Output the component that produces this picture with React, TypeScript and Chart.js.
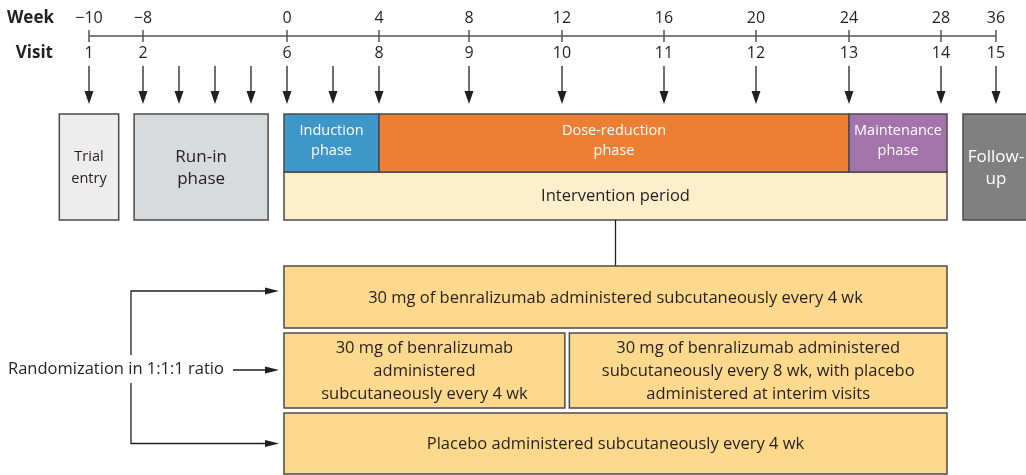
import { useEffect, useRef } from 'react';
import { Chart, registerables, LinearScale } from 'chart.js';

// ---------- DATA ----------
const weekTicks = [-10, -8, 0, 4, 8, 12, 16, 20, 24, 28, 36];
const visitLabels = ['1', '2', '6', '8', '9', '10', '11', '12', '13', '14', '15'];
const visitArrowWeeks = [-10, -8, -6, -4, -2, 0, 2, 4, 8, 12, 16, 20, 24, 28, 36];

const preBoxLabels = [['Trial', 'entry'], ['Run-in', 'phase'], ['Follow-', 'up']];
const preBoxStart = [-11.1, -8.33, 31.2];
const preBoxEnd = [-8.9, -1.05, 41];

const phaseLabels = [['Induction', 'phase'], ['Dose-reduction', 'phase'], ['Maintenance', 'phase']];
const phaseStart = [0, 4, 24];
const phaseEnd = [4, 24, 28];
const periodLabel = 'Intervention period';

const armLabels = [
  ['30 mg of benralizumab administered subcutaneously every 4 wk'],
  ['30 mg of benralizumab', 'administered', 'subcutaneously every 4 wk'],
  ['30 mg of benralizumab administered', 'subcutaneously every 8 wk, with placebo', 'administered at interim visits'],
  ['Placebo administered subcutaneously every 4 wk'],
];
const armStart = [0, 0, 12.2, 0];
const armEnd = [28, 12.2, 28, 28];
const armRow = [0, 1, 1, 2];
const randomizationLabel = 'Randomization in 1:1:1 ratio';

// ---------- SCALE (timeline with segments) ----------
const stopWeeks = [-10, -8, 0, 4, 8, 12, 16, 20, 24, 28, 36];
const stopPositions = [89, 143, 287, 379, 469, 562, 664, 756, 849, 941, 996].map((p) => p / 1026);

class SegmentedScale extends LinearScale {
  static id = 'segmented';
  static defaults = LinearScale.defaults;
  getPixelForValue(value: number) {
    const o: any = this.options;
    const ws: number[] = o.stopWeeks;
    const fs: number[] = o.stopPositions;
    let i = 0;
    while (i < ws.length - 2 && value > ws[i + 1]) i++;
    const f = fs[i] + ((value - ws[i]) / (ws[i + 1] - ws[i])) * (fs[i + 1] - fs[i]);
    return this.left + f * this.width;
  }
  getValueForPixel(pixel: number) {
    const o: any = this.options;
    const ws: number[] = o.stopWeeks;
    const fs: number[] = o.stopPositions;
    const f = (pixel - this.left) / this.width;
    let i = 0;
    while (i < fs.length - 2 && f > fs[i + 1]) i++;
    return ws[i] + ((f - fs[i]) / (fs[i + 1] - fs[i])) * (ws[i + 1] - ws[i]);
  }
}

Chart.register(...registerables, SegmentedScale);

// ---------- LAYOUT / STYLE ----------
const FONT = '"Open Sans", "Noto Sans", sans-serif';
const TEXT = '#231f20';
const BORDER = '#4a4a4a';
const L = {
  weekY: 18, axisY: 36, visitY: 53, tickUp: 6, tickDown: 6,
  arrowTop: 66, arrowTip: 104, headH: 13, headW: 4.5,
  boxTop: 114, phaseBottom: 172, boxBottom: 220,
  padL: 3, padR: 6, connectorBottom: 266,
  armTop: [266, 333, 413], armBottom: [328, 408, 474], armGap: 4.5,
  bracketX: 131, randY: 370, randX: 8, randArrowFrom: 233, armArrowTip: 279,
};
const preBoxColors = ['#ededed', '#d9dadc', '#808080'];
const preBoxText = [TEXT, TEXT, '#ffffff'];
const preBoxFont = [14.5, 17, 17];
const phaseColors = ['#3f97c9', '#ed7f35', '#a374aa'];
const periodColor = '#fdefcb';
const armColor = '#fdd98d';

function box(ctx: CanvasRenderingContext2D, x0: number, y0: number, x1: number, y1: number, fill: string) {
  ctx.fillStyle = fill;
  ctx.fillRect(x0, y0, x1 - x0, y1 - y0);
  ctx.strokeStyle = BORDER;
  ctx.lineWidth = 1.5;
  ctx.strokeRect(x0, y0, x1 - x0, y1 - y0);
}

function lines(ctx: CanvasRenderingContext2D, arr: string[], cx: number, cy: number, lh: number) {
  const n = arr.length;
  arr.forEach((t, i) => ctx.fillText(t, cx, cy + (i - (n - 1) / 2) * lh));
}

function arrowHead(ctx: CanvasRenderingContext2D, tx: number, ty: number, dir: 'down' | 'right', len: number, hw: number) {
  ctx.beginPath();
  if (dir === 'down') {
    ctx.moveTo(tx, ty);
    ctx.lineTo(tx - hw, ty - len);
    ctx.lineTo(tx + hw, ty - len);
  } else {
    ctx.moveTo(tx, ty);
    ctx.lineTo(tx - len, ty - hw);
    ctx.lineTo(tx - len, ty + hw);
  }
  ctx.closePath();
  ctx.fill();
}

const diagramPlugin = {
  id: 'diagram',
  afterDraw(chart: any) {
    const ctx: CanvasRenderingContext2D = chart.ctx;
    const xs = chart.scales.x;
    const ys = chart.scales.y;
    const X = (w: number) => xs.getPixelForValue(w);
    const Y = (v: number) => ys.getPixelForValue(v);
    ctx.save();
    ctx.textAlign = 'center';
    ctx.textBaseline = 'middle';

    // Axis
    ctx.strokeStyle = '#555555';
    ctx.lineWidth = 1.5;
    ctx.beginPath();
    ctx.moveTo(X(weekTicks[0]), Y(L.axisY));
    ctx.lineTo(X(weekTicks[weekTicks.length - 1]), Y(L.axisY));
    weekTicks.forEach((w) => {
      ctx.moveTo(X(w), Y(L.axisY - L.tickUp));
      ctx.lineTo(X(w), Y(L.axisY + L.tickDown));
    });
    ctx.stroke();

    ctx.fillStyle = TEXT;
    ctx.font = `16px ${FONT}`;
    weekTicks.forEach((w, i) => {
      ctx.fillText(w < 0 ? '\u2212' + Math.abs(w) : String(w), X(w), Y(L.weekY));
      ctx.fillText(visitLabels[i], X(w), Y(L.visitY));
    });
    ctx.font = `bold 17px ${FONT}`;
    ctx.textAlign = 'right';
    ctx.fillText('Week', 54, Y(L.weekY));
    ctx.fillText('Visit', 53, Y(L.visitY));
    ctx.textAlign = 'center';

    // Visit arrows
    ctx.strokeStyle = TEXT;
    ctx.fillStyle = TEXT;
    ctx.lineWidth = 1.3;
    visitArrowWeeks.forEach((w) => {
      const x = X(w);
      ctx.beginPath();
      ctx.moveTo(x, Y(L.arrowTop));
      ctx.lineTo(x, Y(L.arrowTip) - L.headH + 1);
      ctx.stroke();
      arrowHead(ctx, x, Y(L.arrowTip), 'down', L.headH, L.headW);
    });

    // Pre / post boxes
    preBoxLabels.forEach((lab, i) => {
      const x0 = X(preBoxStart[i]);
      const x1 = X(preBoxEnd[i]);
      box(ctx, x0, Y(L.boxTop), x1, Y(L.boxBottom), preBoxColors[i]);
      ctx.fillStyle = preBoxText[i];
      ctx.font = `${preBoxFont[i]}px ${FONT}`;
      const cx = i === 2 ? X(weekTicks[weekTicks.length - 1]) : (x0 + x1) / 2;
      lines(ctx, lab, cx, (Y(L.boxTop) + Y(L.boxBottom)) / 2 + 1, 22);
    });

    // Intervention period
    const p0 = X(phaseStart[0]) - L.padL;
    const p1 = X(phaseEnd[phaseEnd.length - 1]) + L.padR;
    box(ctx, p0, Y(L.phaseBottom), p1, Y(L.boxBottom), periodColor);
    ctx.fillStyle = TEXT;
    ctx.font = `16.5px ${FONT}`;
    ctx.fillText(periodLabel, (p0 + p1) / 2, (Y(L.phaseBottom) + Y(L.boxBottom)) / 2);

    // Phases
    phaseLabels.forEach((lab, i) => {
      const x0 = i === 0 ? p0 : X(phaseStart[i]);
      const x1 = i === phaseLabels.length - 1 ? p1 : X(phaseEnd[i]);
      box(ctx, x0, Y(L.boxTop), x1, Y(L.phaseBottom), phaseColors[i]);
      ctx.fillStyle = '#ffffff';
      ctx.font = `14.5px ${FONT}`;
      lines(ctx, lab, (x0 + x1) / 2, Y(L.boxTop) + 27, 20);
    });

    // Connector
    ctx.strokeStyle = TEXT;
    ctx.lineWidth = 1.3;
    ctx.beginPath();
    ctx.moveTo((p0 + p1) / 2, Y(L.boxBottom));
    ctx.lineTo((p0 + p1) / 2, Y(L.connectorBottom));
    ctx.stroke();

    // Arms
    armLabels.forEach((lab, i) => {
      const r = armRow[i];
      let x0 = armStart[i] === 0 ? p0 : X(armStart[i]) + L.armGap / 2;
      let x1 = armEnd[i] === 28 ? p1 : X(armEnd[i]) - L.armGap / 2;
      const y0 = Y(L.armTop[r]);
      const y1 = Y(L.armBottom[r]);
      box(ctx, x0, y0, x1, y1, armColor);
      ctx.fillStyle = TEXT;
      ctx.font = `16.5px ${FONT}`;
      lines(ctx, lab, (x0 + x1) / 2, (y0 + y1) / 2 + 1, 23);
    });

    // Randomization
    ctx.fillStyle = TEXT;
    ctx.font = `16.5px ${FONT}`;
    ctx.textAlign = 'left';
    ctx.fillText(randomizationLabel, L.randX, Y(L.randY) - 1);
    const topY = (Y(L.armTop[0]) + Y(L.armBottom[0])) / 2 - 6;
    const botY = (Y(L.armTop[2]) + Y(L.armBottom[2])) / 2;
    ctx.strokeStyle = TEXT;
    ctx.lineWidth = 1.3;
    ctx.beginPath();
    ctx.moveTo(L.armArrowTip - 12, topY);
    ctx.lineTo(L.bracketX, topY);
    ctx.lineTo(L.bracketX, Y(L.randY) - 15);
    ctx.moveTo(L.bracketX, Y(L.randY) + 13);
    ctx.lineTo(L.bracketX, botY);
    ctx.lineTo(L.armArrowTip - 12, botY);
    ctx.moveTo(L.randArrowFrom, Y(L.randY));
    ctx.lineTo(L.armArrowTip - 12, Y(L.randY));
    ctx.stroke();
    ctx.fillStyle = TEXT;
    [topY, Y(L.randY), botY].forEach((y) => arrowHead(ctx, L.armArrowTip, y, 'right', 14, 3.5));

    ctx.restore();
  },
};

export default function App() {
  const ref = useRef<HTMLCanvasElement | null>(null);
  useEffect(() => {
    document.body.style.margin = '0';
    const canvas = ref.current;
    if (!canvas) return;
    const chart = new Chart(canvas, {
      type: 'scatter',
      data: { datasets: [] },
      options: {
        animation: false,
        responsive: false,
        devicePixelRatio: 1,
        layout: { padding: 0 },
        plugins: { legend: { display: false }, tooltip: { enabled: false } },
        events: [],
        scales: {
          x: {
            type: 'segmented' as any,
            min: -14,
            max: 42,
            display: false,
            stopWeeks,
            stopPositions,
          } as any,
          y: { type: 'linear', min: 0, max: 475, reverse: true, display: false },
        },
      },
      plugins: [diagramPlugin],
    });
    return () => chart.destroy();
  }, []);
  return (
    <div style={{ position: 'absolute', left: 0, top: 0, width: 1026, height: 475, background: '#fff' }}>
      <canvas ref={ref} width={1026} height={475} style={{ display: 'block' }} />
    </div>
  );
}
